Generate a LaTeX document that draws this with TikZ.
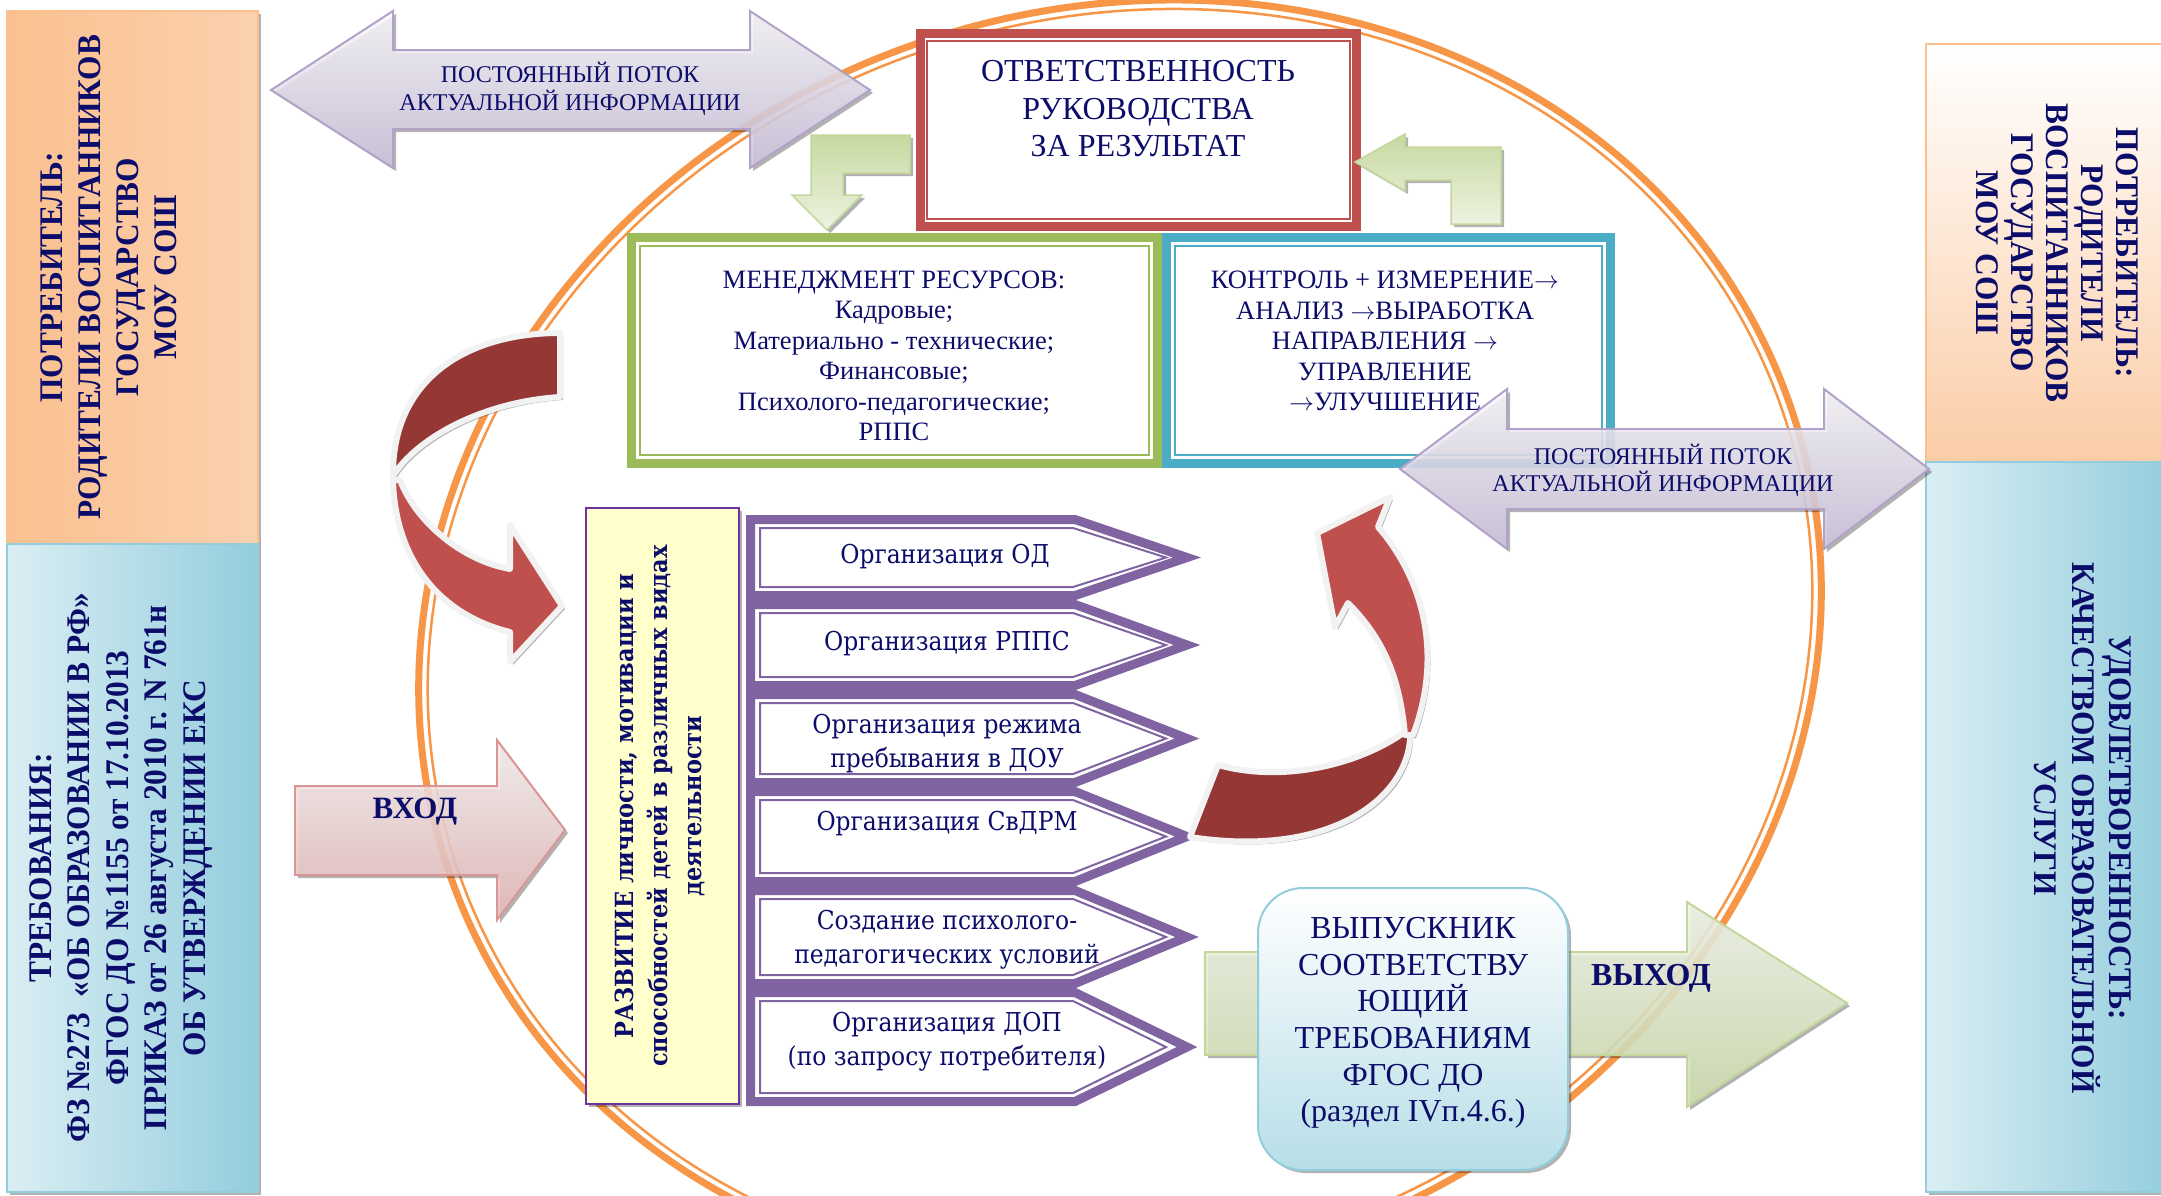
\documentclass[tikz,border=0pt]{standalone}
\usepackage{fontspec}
\setmainfont{Liberation Serif}
\newfontfamily\orgfont[FakeStretch=0.9]{DejaVu Serif}
\newfontfamily\panelfont[FakeStretch=0.95]{Liberation Serif}
\usetikzlibrary{shadows}
\definecolor{navy}{HTML}{0C0C6A}
\definecolor{orng}{HTML}{F79646}
\definecolor{redb}{HTML}{C0504D}
\definecolor{darkred}{HTML}{953735}
\definecolor{grn}{HTML}{9BBB59}
\definecolor{blu}{HTML}{4BACC6}
\definecolor{purp}{HTML}{8064A2}
\definecolor{vio}{HTML}{7030A0}
\definecolor{paleyel}{HTML}{FFFFCC}
\definecolor{lavA}{HTML}{FBFAFD}
\definecolor{lavB}{HTML}{CDC2DD}
\definecolor{lavO}{HTML}{B3A2C7}
\definecolor{gA}{HTML}{EEF3E2}
\definecolor{gB}{HTML}{C6D9A0}
\definecolor{gO}{HTML}{C3D69B}
\definecolor{pkA}{HTML}{FBF5F5}
\definecolor{pkB}{HTML}{E6B9B8}
\definecolor{pkO}{HTML}{D99694}
\definecolor{bB}{HTML}{B7DEE8}
\definecolor{bO}{HTML}{93CDDD}
\definecolor{orA}{HTML}{FAC090}
\definecolor{orB}{HTML}{FDEADA}
\definecolor{blA}{HTML}{93CDDD}
\definecolor{blB}{HTML}{DAEEF3}
\definecolor{offw}{HTML}{F2F2F2}
\tikzset{
  shd/.style={drop shadow={shadow xshift=3pt,shadow yshift=-3pt,opacity=0.3,fill=black}},
  ntext/.style={text=navy, align=center, inner sep=0pt},
  curvearrow/.style={draw=offw, line width=6, line join=round, shd},
}
\newcommand\orgrow[2]{%
  \fill[white] (746,#1) -- (1075,#1) -- (1201,{(#1+#2)/2}) -- (1075,#2) -- (746,#2) -- cycle;
  \draw[purp, line width=9, line join=miter] (750.5,#1+4.5) -- (1075,#1+4.5) -- (1187,{(#1+#2)/2}) -- (1075,#2-4.5) -- (750.5,#2-4.5) -- cycle;
  \draw[purp, line width=2] (760,#1+13) -- (1073,#1+13) -- (1166,{(#1+#2)/2}) -- (1073,#2-13) -- (760,#2-13) -- cycle;
}
\newcommand\rarr{\,$\rightarrow$}
\begin{document}
\begin{tikzpicture}[x=1pt,y=-1pt]
\useasboundingbox[fill=white] (0,0) rectangle (2161,1195);

% side panels
\shade[left color=orA, middle color=orB, right color=orA!60!orB, draw=orA, line width=1.5, shd] (7,11) rectangle (258,544);
\shade[left color=blB, middle color=blB!60!blA, right color=blA, draw=blA, line width=1.5, shd] (7,544) rectangle (258,1192);
\shade[top color=white, bottom color=orA!70!orB, draw=orA, line width=1.5, shd] (1926,44) rectangle (2175,462);
\shade[left color=blB, middle color=blB!70!blA, right color=blA, draw=blA, line width=1.5, shd] (1926,462) rectangle (2175,1192);

\node[ntext, rotate=90, font={\panelfont\bfseries\fontsize{33}{38}\selectfont}] (consL) at (109,277)
  {ПОТРЕБИТЕЛЬ:\\РОДИТЕЛИ ВОСПИТАННИКОВ\\ГОСУДАРСТВО\\МОУ СОШ};
\node[ntext, rotate=90, font={\panelfont\bfseries\fontsize{33}{38.5}\selectfont}] (reqL) at (121,868)
  {ТРЕБОВАНИЯ:\\ФЗ №273~~«ОБ ОБРАЗОВАНИИ В РФ»\\ФГОС ДО №1155 от 17.10.2013\\ПРИКАЗ от 26 августа 2010 г. N 761н\\ОБ УТВЕРЖДЕНИИ ЕКС};
\node[ntext, rotate=-90, font={\panelfont\bfseries\fontsize{33}{35}\selectfont}] (consR) at (2057,253)
  {ПОТРЕБИТЕЛЬ:\\РОДИТЕЛИ\\ВОСПИТАННИКОВ\\ГОСУДАРСТВО\\МОУ СОШ};
\node[ntext, rotate=-90, font={\panelfont\bfseries\fontsize{33}{37.5}\selectfont}] (satR) at (2083,828)
  {УДОВЛЕТВОРЕННОСТЬ:\\КАЧЕСТВОМ ОБРАЗОВАТЕЛЬНОЙ\\УСЛУГИ};

% big orange ring
\begin{scope}[rotate around={20:(1120,640)}]
\draw[orng, line width=7] (1120,640) ellipse [x radius=710, y radius=630];
\draw[orng, line width=2.5] (1120,640) ellipse [x radius=701, y radius=621];
\end{scope}

% top-left double arrow
\shade[top color=lavA, bottom color=lavB, draw=lavO, line width=2, fill opacity=0.85, shd]
  (271,90) -- (393,11) -- (393,50) -- (750,50) -- (750,11) -- (870,90) -- (750,168) -- (750,129) -- (393,129) -- (393,168) -- cycle;
\node[ntext, font={\fontsize{24}{27.5}\selectfont}] (flowA) at (570,89) {ПОСТОЯННЫЙ ПОТОК\\АКТУАЛЬНОЙ ИНФОРМАЦИИ};

% responsibility box
\fill[white] (916,29) rectangle (1361,231);
\draw[redb, line width=9] (920.5,33.5) rectangle (1356.5,226.5);
\draw[redb, line width=2] (927,41) rectangle (1350,219);
\node[ntext, font={\fontsize{32}{37.5}\selectfont}] (resp) at (1138,109) {ОТВЕТСТВЕННОСТЬ\\РУКОВОДСТВА\\ЗА РЕЗУЛЬТАТ};

% green bent arrows
\shade[top color=gB, bottom color=gA, draw=gO, line width=1.5, shd]
  (910,135) -- (811,135) -- (811,195) -- (792,195) -- (827,230) -- (862,195) -- (843,195) -- (843,173) -- (910,173) -- cycle;
\shade[top color=gB, bottom color=gA, draw=gO, line width=1.5, shd]
  (1355,162) -- (1405,134) -- (1405,147) -- (1501,147) -- (1501,224) -- (1451,224) -- (1451,180) -- (1405,180) -- (1405,191) -- cycle;

% resource / control boxes
\fill[white] (627,233) rectangle (1615,468);
\draw[grn, line width=9] (631.5,237.5) rectangle (1157.5,463.5);
\draw[grn, line width=2] (640,246) rectangle (1149,455);
\draw[blu, line width=9] (1166.5,237.5) rectangle (1610.5,463.5);
\draw[blu, line width=2] (1175,246) rectangle (1602,455);
\node[ntext, font={\fontsize{26.5}{30.5}\selectfont}] (res) at (894,356)
  {МЕНЕДЖМЕНТ РЕСУРСОВ:\\Кадровые;\\Материально - технические;\\Финансовые;\\Психолого-педагогические;\\РППС};
\node[ntext, font={\fontsize{26.5}{30.5}\selectfont}] (ctrl) at (1385,341)
  {КОНТРОЛЬ + ИЗМЕРЕНИЕ$\rightarrow$\\АНАЛИЗ $\rightarrow$ВЫРАБОТКА\\НАПРАВЛЕНИЯ $\rightarrow$\\УПРАВЛЕНИЕ\\$\rightarrow$УЛУЧШЕНИЕ};

% lower-right double arrow
\shade[top color=lavA, bottom color=lavB, draw=lavO, line width=2, fill opacity=0.85, shd]
  (1400,469) -- (1507,389) -- (1507,429) -- (1824,429) -- (1824,389) -- (1929,469) -- (1824,549) -- (1824,509) -- (1507,509) -- (1507,549) -- cycle;
\node[ntext, font={\fontsize{24}{27}\selectfont}] (flowB) at (1663,470) {ПОСТОЯННЫЙ ПОТОК\\АКТУАЛЬНОЙ ИНФОРМАЦИИ};

% left curved arrow
\filldraw[fill=darkred, curvearrow] (560,333) .. controls (468,333) and (392,378) .. (393,476) .. controls (415,440) and (480,402) .. (560,397) -- cycle;
\filldraw[fill=redb, curvearrow] (393,480) .. controls (395,560) and (440,615) .. (510,632) -- (510,662) -- (562,606) -- (510,525) -- (510,569) .. controls (460,560) and (415,520) .. (400,480) -- cycle;

% development box
\filldraw[fill=paleyel, draw=vio, line width=2.5, shd] (586,508) rectangle (739,1104);
\node[ntext, rotate=90, font={\orgfont\bfseries\fontsize{25}{34}\selectfont}] (dev) at (660,806)
  {РАЗВИТИЕ личности, мотивации и\\способностей детей в различных видах\\деятельности};

% organisation rows
\orgrow{515}{600}
\orgrow{600}{690}
\orgrow{690}{787}
\orgrow{787}{886}
\orgrow{886}{988}
\orgrow{988}{1106}
\begin{scope}[every node/.style={ntext, font={\orgfont\fontsize{26}{34}\selectfont}}]
\node (o1) at (945,557) {Организация ОД};
\node (o2) at (947,644) {Организация РППС};
\node (o3) at (947,744) {Организация режима\\пребывания в ДОУ};
\node (o4) at (947,824) {Организация СвДРМ};
\node (o5) at (947,940) {Создание психолого-\\педагогических условий};
\node (o6) at (947,1042) {Организация ДОП\\(по запросу потребителя)};
\end{scope}

% right curved arrow
\filldraw[fill=darkred, curvearrow] (1218,765) .. controls (1290,785) and (1370,760) .. (1410,728) .. controls (1415,790) and (1340,860) .. (1190,837) -- cycle;
\filldraw[fill=redb, curvearrow] (1405,735) .. controls (1400,680) and (1385,640) .. (1348,603) -- (1335,627) -- (1317,533) -- (1390,497) -- (1378,527) .. controls (1420,575) and (1445,650) .. (1413,735) -- cycle;

% input arrow
\shade[top color=pkA, bottom color=pkB, draw=pkO, line width=2, fill opacity=0.85, shd]
  (295,786) -- (497,786) -- (497,740) -- (565,830) -- (497,920) -- (497,875) -- (295,875) -- cycle;
\node[ntext, font={\bfseries\fontsize{31}{35}\selectfont}] (inp) at (415,812) {ВХОД};

% output arrow
\shade[top color=gA!60!white, bottom color=gB!80!gA, draw=gO, line width=2, fill opacity=0.85, shd]
  (1205,952) -- (1687,952) -- (1687,902) -- (1847,1003) -- (1687,1107) -- (1687,1055) -- (1205,1055) -- cycle;
\node[ntext, font={\bfseries\fontsize{32}{36}\selectfont}] (outp) at (1651,978) {ВЫХОД};

% graduate box
\shade[top color=white, bottom color=bB, draw=bO, line width=2, rounded corners=45, shd] (1258,888) rectangle (1568,1170);
\node[ntext, font={\fontsize{32}{36.6}\selectfont}] (grad) at (1413,1023)
  {ВЫПУСКНИК\\СООТВЕТСТВУ\\ЮЩИЙ\\ТРЕБОВАНИЯМ\\ФГОС ДО\\(раздел IVп.4.6.)};
\end{tikzpicture}
\end{document}
